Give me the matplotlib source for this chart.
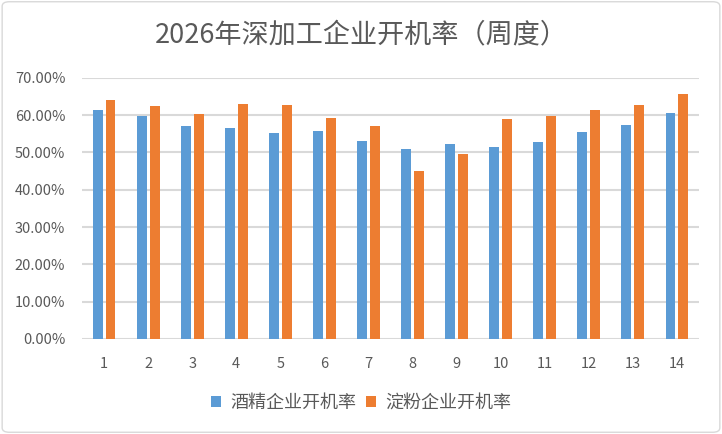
import matplotlib
matplotlib.use("Agg")
import matplotlib.pyplot as plt
import numpy as np
from matplotlib.patches import FancyBboxPatch
from matplotlib.ticker import FuncFormatter

plt.rcParams['font.family'] = ['Noto Sans CJK SC', 'DejaVu Sans']

weeks = [str(i) for i in range(1, 15)]
alcohol = [61.3, 59.7, 57.0, 56.5, 55.2, 55.7, 53.0, 50.9, 52.2, 51.4, 52.8, 55.5, 57.4, 60.6]
starch = [64.0, 62.4, 60.3, 62.9, 62.7, 59.2, 57.1, 45.0, 49.5, 58.9, 59.7, 61.3, 62.7, 65.6]
series_names = ['酒精企业开机率', '淀粉企业开机率']
colors = ['#5B9BD5', '#ED7D31']
title = '2026年深加工企业开机率（周度）'

fig = plt.figure(figsize=(7.22, 4.34), dpi=100)
ax = fig.add_axes([82/722, 1-339/434, 617/722, (339-77.7)/434])

x = np.arange(len(weeks))
w = 0.226
off = 0.147
ax.bar(x - off, alcohol, width=w, color=colors[0], label=series_names[0], zorder=3)
ax.bar(x + off, starch, width=w, color=colors[1], label=series_names[1], zorder=3)

ax.set_xlim(-0.5, len(weeks) - 0.5)
ax.set_ylim(0, 70)
ax.set_yticks(np.arange(0, 71, 10))
ax.yaxis.set_major_formatter(FuncFormatter(lambda v, p: f'{v:.2f}%'))
ax.set_xticks(x)
ax.set_xticklabels(weeks)
ax.grid(axis='y', color='#D9D9D9', linewidth=1.5, zorder=0)
ax.set_axisbelow(True)
for s in ax.spines.values():
    s.set_visible(False)
ax.tick_params(axis='both', length=0, colors='#595959', labelsize=10.5)
ax.tick_params(axis='y', pad=12)
ax.tick_params(axis='x', pad=13)

fig.text(0.5, 1-35/434, title, ha='center', va='center', fontsize=19.5, color='#595959')

leg = fig.legend(loc='center', bbox_to_anchor=(0.5, 1-403/434), ncol=2, frameon=False,
                 fontsize=13, handlelength=0.6, handleheight=0.6, handletextpad=0.5,
                 columnspacing=0.5)
for t in leg.get_texts():
    t.set_color('#595959')

border = FancyBboxPatch((0.003, 0.004), 0.994, 0.992, boxstyle='round,pad=0,rounding_size=0.01',
                        transform=fig.transFigure, fill=False, edgecolor='#D9D9D9', linewidth=1)
fig.patches.append(border)

fig.savefig('out.png', dpi=100)
